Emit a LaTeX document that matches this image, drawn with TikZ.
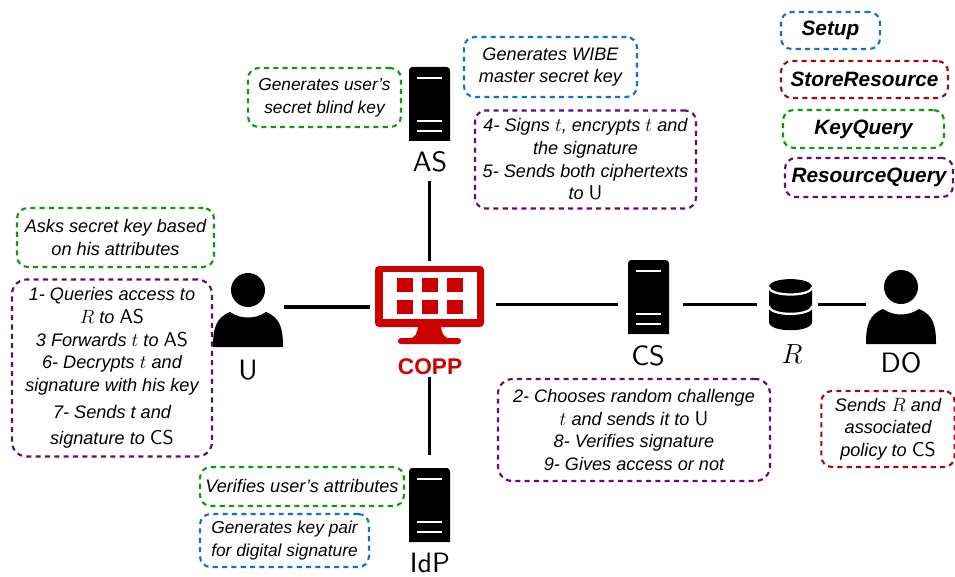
\documentclass[tikz,border=0pt]{standalone}
\usepackage{fontspec}
\setmainfont{Liberation Sans}[ItalicFont={Liberation Sans Italic},BoldItalicFont={Liberation Sans Bold Italic}]
\definecolor{copred}{HTML}{CC0000}
\definecolor{notegreen}{HTML}{0A9A0A}
\definecolor{noteblue}{HTML}{0F70D2}
\definecolor{notepurple}{HTML}{660A6E}
\definecolor{notered}{HTML}{A00A0A}
\font\lblfont=cmss10 at 21pt
\font\entfont=cmss10 at 15pt
\newcommand{\ent}[1]{{\entfont #1}}
\newcommand{\vr}[1]{{\fontsize{14}{16.8}\selectfont$#1$}}
\tikzset{
  note/.style={draw, dashed, dash pattern=on 3.8pt off 3.2pt, line width=1.6pt, rounded corners=8pt, align=center, inner sep=0pt,
    text=black, font=\fontsize{13.6}{17}\selectfont\itshape},
  notesmall/.style={note, font=\fontsize{13}{17}\selectfont\itshape},
  legend/.style={note, font=\fontsize{15.6}{18}\selectfont\itshape\bfseries},
  iconbox/.style={inner sep=0pt, outer sep=0pt},
  srvbar/.style={white, line width=1.7pt},
  lbl/.style={inner sep=0pt, font=\lblfont},
  link/.style={line width=2.5pt},
}
\newcommand{\serverIcon}[3]{
\node[iconbox, minimum width=30.75pt, minimum height=55.5pt] (#1) at (#2,#3){};
\fill (#2-20.5,#3+37) {[rounded corners=2.5pt] -- (#2-20.5,#3-37) -- (#2+20.5,#3-37)} -- (#2+20.5,#3+37) -- cycle;
\foreach \by in {-26,17,27}{
\draw[srvbar] (#2-12.5,#3+\by) -- (#2+12.5,#3+\by);
}
}
\newcommand{\personIcon}[3]{
\node[iconbox, minimum width=52.5pt, minimum height=60pt] (#1) at (#2,#3+17){};
\fill (#2,#3) circle[radius=12.75pt];
\fill (#2-35,#3+57) .. controls (#2-35,#3+40) and (#2-33,#3+28) .. (#2-18,#3+22) .. controls (#2-12,#3+26) and (#2-6,#3+27.5) .. (#2,#3+27.5)
  .. controls (#2+6,#3+27.5) and (#2+12,#3+26) .. (#2+18,#3+22) .. controls (#2+33,#3+28) and (#2+35,#3+40) .. (#2+35,#3+57) -- cycle;
}
\begin{document}
\begin{tikzpicture}[x=.75pt,y=-.75pt]
\useasboundingbox (0,0) rectangle (955,577);
% servers and their names
\serverIcon{srvAS}{429.5}{104}
\node[lbl] (lblAS) at (430,162){AS};
\serverIcon{srvCS}{648.5}{297}
\node[lbl] (lblCS) at (648,356){CS};
\serverIcon{srvIdP}{429.5}{505}
\node[lbl] (lblIdP) at (430,563){IdP};
% users
\personIcon{usrU}{248}{290}
\node[lbl] (lblU) at (248,370){U};
\personIcon{usrDO}{901}{287}
\node[lbl] (lblDO) at (901,363){DO};
% resource
\node[iconbox, minimum width=32.25pt, minimum height=38.25pt] (dbR) at (790.5,304.5){};
\fill (769,287) .. controls (769,276.5) and (812,276.5) .. (812,287) -- (812,322) .. controls (812,333) and (769,333) .. (769,322) -- cycle;
\draw[srvbar] (769,287) .. controls (769,297) and (812,297) .. (812,287);
\draw[srvbar] (769,306) .. controls (769,316.5) and (812,316.5) .. (812,306);
\node[inner sep=0pt, font=\fontsize{19.5}{22}\selectfont] (lblR) at (792,354){$R$};
% monitor
\node[iconbox, minimum width=81.75pt, minimum height=58.5pt] (COPP) at (429.5,305){};
\fill[copred, rounded corners=3pt] (375,266) rectangle (484,327);
\fill[white] (383,272) rectangle (477,319);
\foreach \sx in {397,422,447}{
\foreach \sy in {278,300}{
\fill[copred] (\sx,\sy) rectangle (\sx+15.5,\sy+13.5);
}
}
\fill[copred] (418,325) -- (441,325) .. controls (441,333) and (444,339) .. (452,339) -- (407,339) .. controls (415,339) and (418,333) .. (418,325) -- cycle;
\fill[copred, rounded corners=2.2pt] (398,338) rectangle (461,344);
\node[inner sep=0pt, text=copred, font=\fontsize{17}{20}\selectfont\bfseries] (lblCOPP) at (430,367){COPP};
% connectors
\draw[link, shorten <=7pt, shorten >=4pt](COPP.north |- lblAS.south) -- (COPP.north);
\draw[link, shorten <=1pt, shorten >=4pt](usrU.east) -- (usrU.east -| COPP.west);
\draw[link, shorten <=1pt, shorten >=10pt](COPP.south |- lblCOPP.south) -- (srvIdP.north);
\draw[link, shorten <=9pt, shorten >=7.5pt](COPP.east |- dbR.west) -- (srvCS.west |- dbR.west);
\draw[link, shorten <=10.5pt, shorten >=9pt](srvCS.east |- dbR.west) -- (dbR.west);
\draw[link, shorten <=4.5pt, shorten >=0pt](dbR.east) -- (usrDO.west |- dbR.east);
% legend
\node[legend, noteblue, text=black, minimum width=74.25pt, minimum height=27.75pt] (lgSetup) at (830.5,30.5){Setup};
\node[legend, notered, text=black, minimum width=125.25pt, minimum height=27.75pt] (lgStore) at (864.5,79.5){StoreResource};
\node[legend, notegreen, text=black, minimum width=120.75pt, minimum height=28.5pt] (lgKey) at (863.5,129){KeyQuery};
\node[legend, notepurple, text=black, minimum width=126pt, minimum height=29.25pt] (lgRes) at (869,177.5){ResourceQuery};
% notes
\node[note, noteblue, text=black, minimum width=129.75pt, minimum height=45pt] (nWibe) at (550.5,67){Generates WIBE\\master secret key};
\node[notesmall, notegreen, text=black, minimum width=114.75pt, minimum height=44.25pt] (nBlind) at (324.5,97.5){Generates user's\\secret blind key};
\node[note, notepurple, text=black, minimum width=165.75pt, minimum height=73.5pt] (nSign) at (585.5,159.5){4- Signs \vr{t}, encrypts \vr{t} and\\the signature\\5- Sends both ciphertexts\\to \ent{U}};
\node[note, notegreen, text=black, minimum width=147.75pt, minimum height=44.25pt] (nAsks) at (115.5,237.5){Asks secret key based\\on his attributes};
\node[note, notepurple, text=black, rounded corners=11pt, minimum width=150pt, minimum height=132.75pt] (nUser) at (112,368){1- Queries access to\\\vr{R} to \ent{AS}\\3 Forwards \vr{t} to \ent{AS}\\6- Decrypts \vr{t} and\\signature with his key\\[3pt]7- Sends t and\\[3pt]signature to \ent{CS}};
\node[note, notegreen, text=black, minimum width=153pt, minimum height=29.25pt] (nVerif) at (302,486.5){Verifies user's attributes};
\node[notesmall, noteblue, text=black, minimum width=126.75pt, minimum height=39.75pt] (nPair) at (284.5,540.5){Generates key pair\\for digital signature};
\node[note, notepurple, text=black, rounded corners=11pt, minimum width=204pt, minimum height=76.5pt] (nChal) at (634,430){2- Chooses random challenge\\\vr{t} and sends it to \ent{U}\\8- Verifies signature\\9- Gives access or not};
\node[note, notered, text=black, minimum width=100pt, minimum height=57pt] (nOwner) at (888,429){Sends \vr{R} and\\associated\\policy to \ent{CS}};
\end{tikzpicture}
\end{document}
